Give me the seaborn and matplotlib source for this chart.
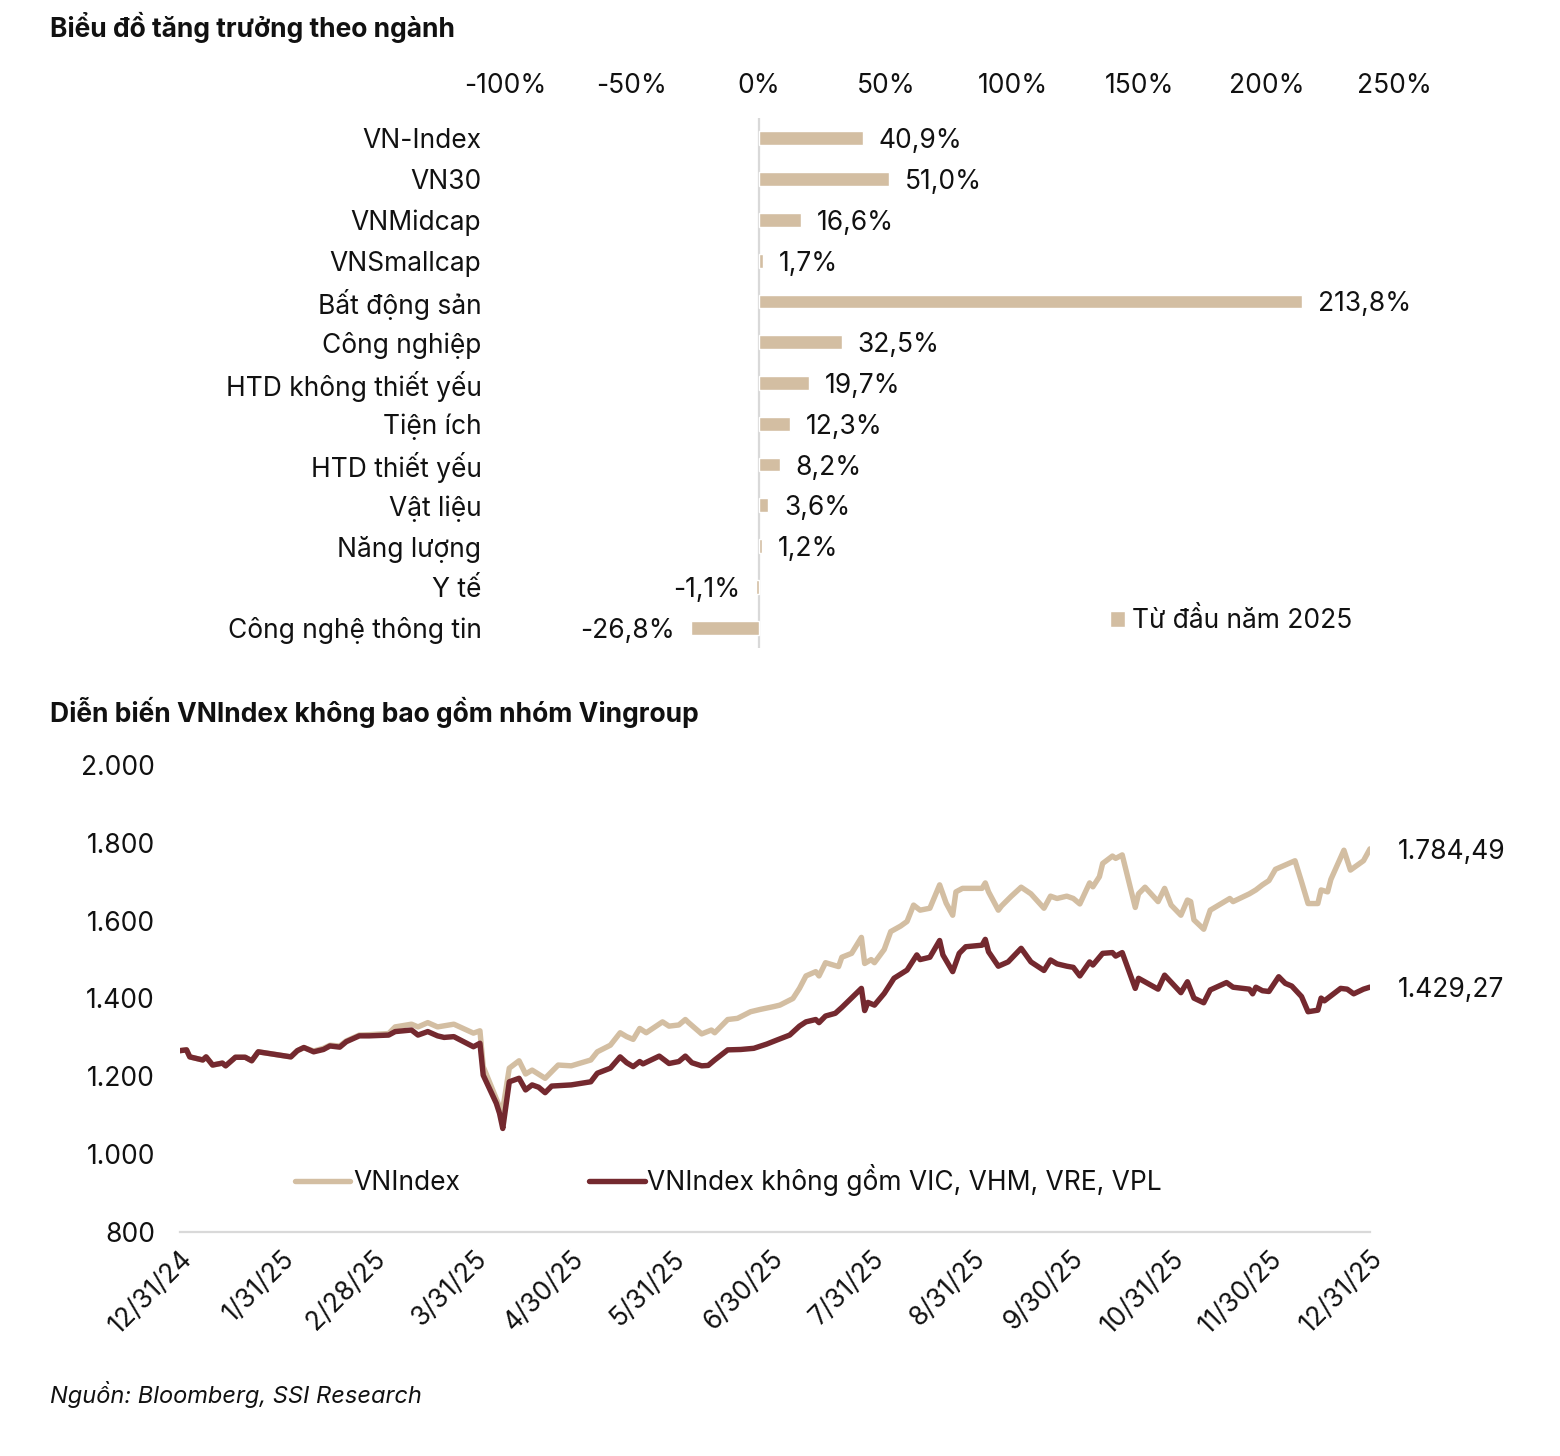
import numpy as np
import pandas as pd
import matplotlib
matplotlib.use("Agg")
import matplotlib.pyplot as plt
import matplotlib.dates as mdates
import seaborn as sns

# ---------------- data: sector growth ----------------
sectors = ["VN-Index", "VN30", "VNMidcap", "VNSmallcap", "Bất động sản", "Công nghiệp",
           "HTD không thiết yếu", "Tiện ích", "HTD thiết yếu", "Vật liệu", "Năng lượng",
           "Y tế", "Công nghệ thông tin"]
growth = [40.9, 51.0, 16.6, 1.7, 213.8, 32.5, 19.7, 12.3, 8.2, 3.6, 1.2, -1.1, -26.8]
bar_series_name = "Từ đầu năm 2025"
x_ticks_pct = [-100, -50, 0, 50, 100, 150, 200, 250]

# ---------------- data: index lines (days since 2024-12-31) ----------------
start_date = "2024-12-31"
vni_days = [0, 2, 3, 7, 8, 10, 13, 14, 17, 20, 22, 24, 34, 36, 38, 41, 44, 46, 49, 51, 55, 58, 64,
            66, 71, 73, 76, 79, 84, 90, 92, 93, 98, 99, 101, 104, 106, 108, 112, 116, 120,
            126, 128, 132, 135, 137, 139, 141, 143, 148, 150, 153, 155, 156, 160, 163, 164,
            168, 171, 175, 178, 182, 184, 188, 190, 192, 195, 196, 198, 202, 203, 206, 209,
            210, 212, 213, 216, 218, 221, 223, 225, 227, 230, 233, 235, 237, 238, 240, 246,
            247, 248, 251, 252, 255, 258, 261, 265, 267, 269, 272, 274, 276, 279, 280, 282,
            283, 286, 287, 289, 293, 294, 296, 300, 302, 304, 307, 309, 310, 311, 314, 316,
            317, 322, 323, 328, 330, 332, 334, 336, 342, 344, 346, 349, 350, 352, 353, 357,
            359, 363, 365]
vni_values = [1266, 1268, 1250, 1242, 1250, 1229, 1234, 1227, 1249, 1249, 1240, 1263, 1250, 1266,
              1274, 1265, 1272, 1280, 1278, 1291, 1306, 1307, 1310,
              1327, 1334, 1327, 1338, 1327, 1334, 1311, 1317, 1225, 1122, 1115, 1221, 1240,
              1206, 1216, 1195, 1229, 1227,
              1242, 1263, 1280, 1312, 1302, 1295, 1323, 1312, 1340, 1329, 1332, 1346, 1338,
              1309, 1319, 1312, 1346, 1349, 1366, 1372, 1379, 1383, 1400, 1426, 1458, 1469,
              1458, 1492, 1482, 1506, 1516, 1557, 1490, 1500, 1492, 1526, 1572, 1586, 1598,
              1640, 1627, 1632, 1692, 1645, 1614, 1674, 1683, 1683, 1697, 1674, 1627, 1638,
              1663, 1686, 1669, 1632, 1663, 1657, 1663, 1657, 1643, 1697, 1687, 1713, 1747,
              1766, 1760, 1769, 1634, 1669, 1686, 1649, 1683, 1640, 1614, 1653, 1649, 1602,
              1578, 1627, 1632, 1657, 1649, 1669, 1679, 1692, 1703, 1732, 1754, 1700, 1644,
              1644, 1679, 1674, 1706, 1781, 1730, 1754, 1784.49]

exvin_days = [0, 2, 3, 7, 8, 10, 13, 14, 17, 20, 22, 24, 34, 36, 38, 41, 44, 46, 49, 51, 55, 58,
              64, 66, 71, 73, 76, 79, 81, 84, 87, 90, 92, 93, 97, 98, 99, 101, 104, 106, 108,
              110, 112, 114, 120, 126, 128, 132, 135, 137, 139, 141, 142, 147, 150, 153, 155,
              157, 160, 162, 164, 168, 172, 176, 180, 183, 187, 190, 192, 195, 196, 198, 201,
              203, 209, 210, 211, 213, 216, 219, 223, 226, 227, 230, 233, 234, 237, 239, 241,
              246, 247, 248, 251, 254, 258, 261, 265, 267, 269, 272, 274, 276, 279, 280, 283,
              286, 287, 289, 293, 294, 300, 302, 307, 309, 311, 314, 316, 321, 323, 328, 329,
              330, 332, 334, 337, 339, 341, 344, 346, 349, 350, 351, 356, 358, 360, 363, 365]
exvin_values = [1266, 1268, 1250, 1242, 1250, 1229, 1234, 1227, 1249, 1249, 1240, 1263, 1250,
                1266, 1274, 1263, 1269, 1278, 1275, 1289, 1304, 1304, 1306, 1315, 1319, 1306,
                1315, 1304, 1300, 1302, 1289, 1276, 1285, 1203, 1131, 1105, 1066, 1186, 1195,
                1165, 1178, 1172, 1158, 1175, 1178, 1186, 1208, 1221, 1250, 1235, 1225, 1238,
                1232, 1252, 1233, 1238, 1252, 1235, 1227, 1228, 1242, 1268, 1269, 1272, 1283,
                1293, 1306, 1329, 1340, 1346, 1338, 1355, 1362, 1377, 1426, 1369, 1390, 1383,
                1413, 1452, 1473, 1512, 1500, 1506, 1549, 1512, 1469, 1516, 1533, 1537, 1552,
                1520, 1483, 1494, 1529, 1494, 1472, 1499, 1489, 1483, 1480, 1458, 1494, 1486,
                1516, 1518, 1509, 1518, 1426, 1452, 1424, 1460, 1415, 1443, 1401, 1389, 1422,
                1441, 1429, 1424, 1412, 1429, 1420, 1418, 1456, 1439, 1432, 1405, 1366, 1370,
                1401, 1394, 1426, 1424, 1412, 1424, 1429.27]

series_names = ["VNIndex", "VNIndex không gồm VIC, VHM, VRE, VPL"]
month_ticks = ["2024-12-31", "2025-01-31", "2025-02-28", "2025-03-31", "2025-04-30", "2025-05-31",
               "2025-06-30", "2025-07-31", "2025-08-31", "2025-09-30", "2025-10-31",
               "2025-11-30", "2025-12-31"]
y_ticks_idx = [800, 1000, 1200, 1400, 1600, 1800, 2000]

# ---------------- style ----------------
sns.set_theme(style="white")
plt.rcParams["font.family"] = ["Inter", "DejaVu Sans"]
LIGHT = "#D3BEA2"
DARK = "#74292F"
GRID = "#D9D9D9"
TXT = "#111111"
FS = 19


def vn_num(v, dec):
    s = f"{v:,.{dec}f}"
    return s.replace(",", "X").replace(".", ",").replace("X", ".")


fig = plt.figure(figsize=(15.6, 14.56), dpi=100)

# ================= top bar chart =================
ax1 = fig.add_axes([505 / 1560, 1 - 648 / 1456, (1394 - 505) / 1560, (648 - 118) / 1456])
bar_df = pd.DataFrame({"sector": sectors, "growth": growth})
sns.barplot(data=bar_df, y="sector", x="growth", orient="h", color=LIGHT, width=0.34,
            saturation=1, ax=ax1, label=bar_series_name)
ax1.set_xlim(-100, 250)
ax1.set_ylim(len(sectors) - 0.5, -0.5)
ax1.xaxis.tick_top()
ax1.set_xticks(x_ticks_pct)
ax1.set_xticklabels([f"{t}%" for t in x_ticks_pct], fontsize=FS, color=TXT)
ax1.tick_params(axis="x", length=0, pad=14)
ax1.tick_params(axis="y", length=0, pad=17, labelsize=FS, labelcolor=TXT)
ax1.set_xlabel("")
ax1.set_ylabel("")
for s in ax1.spines.values():
    s.set_visible(False)
ax1.axvline(0, color=GRID, lw=1.6, zorder=0)
for i, v in enumerate(growth):
    lbl = vn_num(v, 1) + "%"
    if v >= 0:
        ax1.annotate(lbl, (v, i), xytext=(11.5, 0), textcoords="offset points",
                     ha="left", va="center_baseline", fontsize=FS, color=TXT)
    else:
        ax1.annotate(lbl, (v, i), xytext=(-11.5, 0), textcoords="offset points",
                     ha="right", va="center_baseline", fontsize=FS, color=TXT)
leg1 = ax1.legend(loc="center left", bbox_to_anchor=((1110 - 505) / 889, 0.051), frameon=False,
                  fontsize=FS, handlelength=0.55, handleheight=0.55, handletextpad=0.3,
                  borderaxespad=0, borderpad=0)
for t in leg1.get_texts():
    t.set_color(TXT)

fig.text(50 / 1560, 1 - 27 / 1456, "Biểu đồ tăng trưởng theo ngành", fontsize=19,
         fontweight="bold", ha="left", va="center", color=TXT)

# ================= bottom line chart =================
ax2 = fig.add_axes([180 / 1560, 1 - 1232 / 1456, (1370 - 180) / 1560, (1232 - 765) / 1456])
t0 = pd.Timestamp(start_date)
df_vni = pd.DataFrame({"date": t0 + pd.to_timedelta(vni_days, unit="D"), "value": vni_values,
                       "series": series_names[0]})
df_ex = pd.DataFrame({"date": t0 + pd.to_timedelta(exvin_days, unit="D"), "value": exvin_values,
                      "series": series_names[1]})
line_df = pd.concat([df_vni, df_ex], ignore_index=True)
sns.lineplot(data=line_df, x="date", y="value", hue="series", hue_order=series_names,
             palette=[LIGHT, DARK], linewidth=3.9, ax=ax2, sort=False, estimator=None)
for ln in ax2.get_lines():
    ln.set_solid_joinstyle("round")
    ln.set_solid_capstyle("round")

ax2.set_xlim(pd.Timestamp(month_ticks[0]), pd.Timestamp(month_ticks[-1]))
ax2.set_ylim(800, 2000)
ax2.set_yticks(y_ticks_idx)
ax2.set_yticklabels([vn_num(v, 0) for v in y_ticks_idx], fontsize=FS, color=TXT)
xt = pd.to_datetime(month_ticks)
ax2.set_xticks(xt)
ax2.set_xticklabels([f"{d.month}/{d.day}/{d.year % 100}" for d in xt], fontsize=FS,
                    color=TXT, rotation=45, ha="right", rotation_mode="anchor")
ax2.tick_params(axis="x", length=0, pad=10)
ax2.tick_params(axis="y", length=0, pad=18)
ax2.set_xlabel("")
ax2.set_ylabel("")
for k in ["top", "right", "left"]:
    ax2.spines[k].set_visible(False)
ax2.spines["bottom"].set_color(GRID)
ax2.spines["bottom"].set_linewidth(1.6)

for vals, days in [(vni_values, vni_days), (exvin_values, exvin_days)]:
    ax2.annotate(vn_num(vals[-1], 2), (t0 + pd.Timedelta(days=days[-1]), vals[-1]),
                 xytext=(20, 0), textcoords="offset points", ha="left", va="center_baseline",
                 fontsize=FS, color=TXT, annotation_clip=False)

leg2 = ax2.legend(loc="center left", bbox_to_anchor=((295 - 180) / 1190, (1232 - 1180) / 467),
                  ncol=2, frameon=False, fontsize=FS, handlelength=2.1, handletextpad=0.1,
                  columnspacing=4.9, borderaxespad=0, borderpad=0)
for t in leg2.get_texts():
    t.set_color(TXT)
for h in leg2.legend_handles:
    h.set_linewidth(3.9)
    h.set_solid_capstyle("round")

fig.text(50 / 1560, 1 - 712 / 1456, "Diễn biến VNIndex không bao gồm nhóm Vingroup", fontsize=19,
         fontweight="bold", ha="left", va="center", color=TXT)
fig.text(50 / 1560, 1 - 1395 / 1456, "Nguồn: Bloomberg, SSI Research", fontsize=17,
         fontstyle="italic", ha="left", va="center", color=TXT)

fig.savefig("out.png", dpi=100)
